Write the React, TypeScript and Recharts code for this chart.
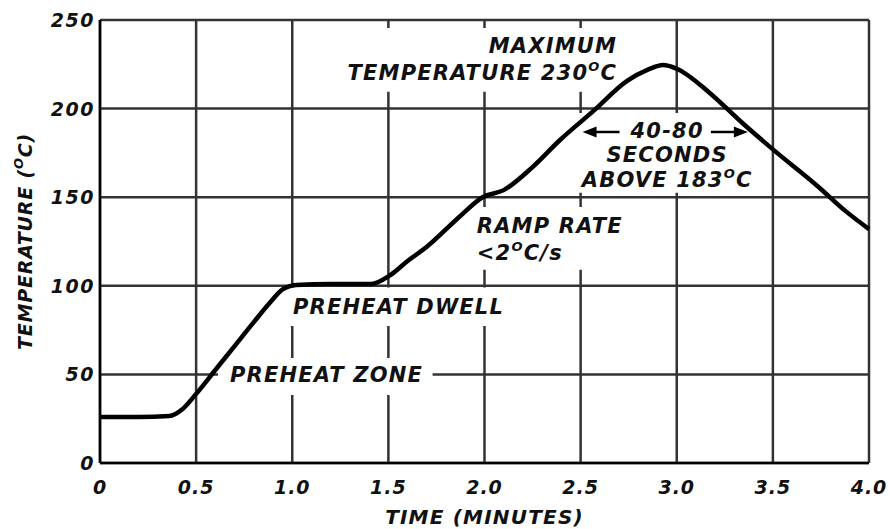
import React from "react";
import {
  LineChart,
  Line,
  XAxis,
  YAxis,
  CartesianGrid,
  ReferenceArea,
  ReferenceDot,
} from "recharts";

// ---- data ----
const timeValues = [
  0, 0.2, 0.36, 0.43, 0.5, 0.6, 0.7, 0.8, 0.88, 0.95, 1.02, 1.2, 1.41, 1.51,
  1.6, 1.7, 1.87, 1.99, 2.1, 2.25, 2.39, 2.57, 2.74, 2.85, 2.93, 3.0, 3.17, 3.34,
  3.5, 3.73, 3.88, 4.0,
];
const tempValues = [
  26, 26, 26.5, 30.5, 39, 52.5, 66, 79.5, 90, 98, 100.5, 101, 101, 106, 114, 122,
  139, 150, 154, 167, 182, 199, 215.5, 222, 224.6, 222.5, 209, 192, 177, 156.5, 142,
  132,
];
const xTicks = [0, 0.5, 1, 1.5, 2, 2.5, 3, 3.5, 4];
const xTickLabels = ["0", "0.5", "1.0", "1.5", "2.0", "2.5", "3.0", "3.5", "4.0"];
const yTicks = [0, 50, 100, 150, 200, 250];
const yTickLabels = ["0", "50", "100", "150", "200", "250"];

// white boxes behind annotation text [x1, x2, y1, y2]
const maskMax = [1.22, 2.75, 209.5, 245.5];
const maskWindow = [2.47, 3.43, 152.5, 197.5];
const maskRamp = [1.92, 2.8, 109, 144.5];
const maskDwell = [0.96, 2.13, 77.3, 99];
const maskZone = [0.614, 1.73, 38.4, 59.3];

// annotation anchors [time, temp]
const anchorMax = [2.69, 235.5];
const anchorWindow = [2.95, 187.4];
const anchorRamp = [1.96, 133.8];
const anchorDwell = [1.004, 88];
const anchorZone = [0.676, 49.7];
const arrowLeftTip = [2.51, 186.8];
const arrowRightTip = [3.37, 186.8];

const data = timeValues.map((t, i) => ({ t, temp: tempValues[i] }));

const FONT = "'DejaVu Sans', 'Liberation Sans', sans-serif";
const textStyle: React.CSSProperties = {
  fontFamily: FONT,
  fontWeight: "bold",
  fontStyle: "italic",
  fontSize: 21,
  letterSpacing: 1.2,
  fill: "#111",
};

const Deg = () => (
  <>
    <tspan dy={-7} fontSize={13}>
      O
    </tspan>
    <tspan dy={7}>C</tspan>
  </>
);

const XTick = (props: any) => {
  const { x, y, payload } = props;
  const idx = xTicks.indexOf(payload.value);
  return (
    <text
      x={x}
      y={y + 22}
      textAnchor="middle"
      dominantBaseline="central"
      style={{ ...textStyle, fontSize: 19, letterSpacing: 1 }}
    >
      {idx >= 0 ? xTickLabels[idx] : payload.value}
    </text>
  );
};

const YTick = (props: any) => {
  const { y, payload } = props;
  const idx = yTicks.indexOf(payload.value);
  return (
    <text
      x={95}
      y={y}
      textAnchor="end"
      dominantBaseline="central"
      style={{ ...textStyle, fontSize: 19, letterSpacing: 1.5 }}
    >
      {idx >= 0 ? yTickLabels[idx] : payload.value}
    </text>
  );
};

const mask = (m: number[], k: string) => (
  <ReferenceArea
    key={k}
    x1={m[0]}
    x2={m[1]}
    y1={m[2]}
    y2={m[3]}
    fill="#ffffff"
    fillOpacity={1}
    stroke="none"
    strokeWidth={0}
    isFront={false}
  />
);

export default function App() {
  return (
    <div style={{ position: "absolute", left: 0, top: 0, width: 890, height: 529, background: "#fff" }}>
      <LineChart
        width={890}
        height={529}
        data={data}
        margin={{ top: 20, right: 21, bottom: 0, left: 0 }}
      >
        <CartesianGrid stroke="#333" strokeWidth={2.5} />
        {mask(maskMax, "m1")}
        {mask(maskWindow, "m2")}
        {mask(maskRamp, "m3")}
        {mask(maskDwell, "m4")}
        {mask(maskZone, "m5")}
        <XAxis
          dataKey="t"
          type="number"
          domain={[0, 4]}
          ticks={xTicks}
          interval={0}
          height={66}
          tickLine={false}
          tickSize={0}
          axisLine={{ stroke: "#000", strokeWidth: 2.5 }}
          tick={<XTick />}
          label={(p: any) => {
            const vb = p.viewBox || { x: 100, y: 463, width: 769, height: 66 };
            return (
              <text
                x={vb.x + vb.width / 2}
                y={vb.y + 54}
                textAnchor="middle"
                dominantBaseline="central"
                style={{ ...textStyle, fontSize: 20 }}
              >
                TIME (MINUTES)
              </text>
            );
          }}
        />
        <YAxis
          type="number"
          domain={[0, 250]}
          ticks={yTicks}
          interval={0}
          width={100}
          tickLine={false}
          tickSize={0}
          axisLine={{ stroke: "#000", strokeWidth: 2.5 }}
          tick={<YTick />}
          label={(p: any) => {
            const vb = p.viewBox || { x: 0, y: 20, width: 100, height: 443 };
            const cx = vb.x + 25;
            const cy = vb.y + vb.height / 2;
            return (
              <text
                x={cx}
                y={cy}
                textAnchor="middle"
                dominantBaseline="central"
                transform={`rotate(-90 ${cx} ${cy})`}
                style={{ ...textStyle, fontSize: 19, letterSpacing: 0.8 }}
              >
                TEMPERATURE (<Deg />)
              </text>
            );
          }}
        />
        <Line
          type="monotone"
          dataKey="temp"
          stroke="#000"
          strokeWidth={4.5}
          dot={false}
          activeDot={false}
          isAnimationActive={false}
        />
        <ReferenceDot
          x={anchorMax[0]}
          y={anchorMax[1]}
          r={0}
          shape={(p: any) => (
            <g>
              <text x={p.cx} y={p.cy} textAnchor="end" dominantBaseline="central" style={textStyle}>
                MAXIMUM
              </text>
              <text x={p.cx} y={p.cy + 27} textAnchor="end" dominantBaseline="central" style={textStyle}>
                TEMPERATURE 230<Deg />
              </text>
            </g>
          )}
        />
        <ReferenceDot
          x={anchorWindow[0]}
          y={anchorWindow[1]}
          r={0}
          shape={(p: any) => (
            <g>
              <text x={p.cx} y={p.cy} textAnchor="middle" dominantBaseline="central" style={textStyle}>
                40-80
              </text>
              <text x={p.cx} y={p.cy + 24.5} textAnchor="middle" dominantBaseline="central" style={textStyle}>
                SECONDS
              </text>
              <text x={p.cx} y={p.cy + 49} textAnchor="middle" dominantBaseline="central" style={textStyle}>
                ABOVE 183<Deg />
              </text>
            </g>
          )}
        />
        <ReferenceDot
          x={arrowLeftTip[0]}
          y={arrowLeftTip[1]}
          r={0}
          shape={(p: any) => (
            <g>
              <line x1={p.cx + 10} y1={p.cy} x2={p.cx + 37} y2={p.cy} stroke="#000" strokeWidth={2.5} />
              <polygon
                points={`${p.cx},${p.cy} ${p.cx + 14},${p.cy - 5.5} ${p.cx + 14},${p.cy + 5.5}`}
                fill="#000"
              />
            </g>
          )}
        />
        <ReferenceDot
          x={arrowRightTip[0]}
          y={arrowRightTip[1]}
          r={0}
          shape={(p: any) => (
            <g>
              <line x1={p.cx - 37} y1={p.cy} x2={p.cx - 10} y2={p.cy} stroke="#000" strokeWidth={2.5} />
              <polygon
                points={`${p.cx},${p.cy} ${p.cx - 14},${p.cy - 5.5} ${p.cx - 14},${p.cy + 5.5}`}
                fill="#000"
              />
            </g>
          )}
        />
        <ReferenceDot
          x={anchorRamp[0]}
          y={anchorRamp[1]}
          r={0}
          shape={(p: any) => (
            <g>
              <text x={p.cx} y={p.cy} textAnchor="start" dominantBaseline="central" style={textStyle}>
                RAMP RATE
              </text>
              <text x={p.cx} y={p.cy + 27} textAnchor="start" dominantBaseline="central" style={textStyle}>
                {"<2"}
                <Deg />
                {"/s"}
              </text>
            </g>
          )}
        />
        <ReferenceDot
          x={anchorDwell[0]}
          y={anchorDwell[1]}
          r={0}
          shape={(p: any) => (
            <text x={p.cx} y={p.cy} textAnchor="start" dominantBaseline="central" style={textStyle}>
              PREHEAT DWELL
            </text>
          )}
        />
        <ReferenceDot
          x={anchorZone[0]}
          y={anchorZone[1]}
          r={0}
          shape={(p: any) => (
            <text x={p.cx} y={p.cy} textAnchor="start" dominantBaseline="central" style={textStyle}>
              PREHEAT ZONE
            </text>
          )}
        />
      </LineChart>
    </div>
  );
}
